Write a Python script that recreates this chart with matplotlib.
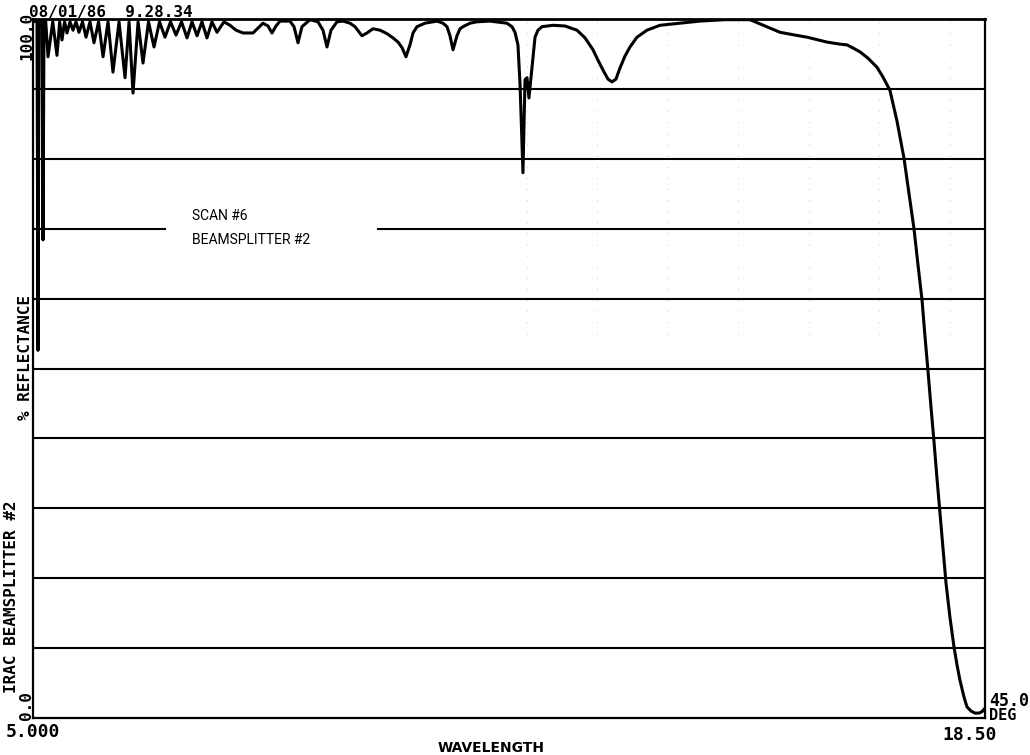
import matplotlib
matplotlib.use("Agg")
import matplotlib.pyplot as plt

# ---- data (wavelength in microns, % reflectance) ----
wavelength = [
    5.000, 5.057, 5.071, 5.085, 5.128, 5.142, 5.156, 5.180, 5.213, 5.280,
    5.340, 5.378, 5.411, 5.448, 5.482, 5.525, 5.567, 5.610, 5.652, 5.702,
    5.752, 5.808, 5.865, 5.930, 5.993, 6.064, 6.134, 6.220, 6.305, 6.362,
    6.418, 6.490, 6.560, 6.638, 6.716, 6.794, 6.872, 6.950, 7.028, 7.106,
    7.184, 7.255, 7.326, 7.396, 7.467, 7.538, 7.609,
    7.708, 7.794, 7.879, 7.978, 8.120, 8.191, 8.261, 8.332, 8.389, 8.446,
    8.503, 8.644, 8.701, 8.758, 8.814, 8.928, 9.041, 9.112, 9.169, 9.226,
    9.311, 9.396, 9.495, 9.566, 9.665, 9.736, 9.821, 9.921, 10.020, 10.105,
    10.176, 10.233, 10.289, 10.346, 10.389, 10.445, 10.559, 10.729, 10.814, 10.871,
    10.913, 10.956, 11.012, 11.055, 11.098, 11.197, 11.296, 11.480, 11.721, 11.792,
    11.835, 11.877, 11.906, 11.948, 11.977, 12.005, 12.033, 12.076, 12.119, 12.161,
    12.218, 12.374, 12.544, 12.714, 12.828, 12.941, 13.012, 13.083, 13.154, 13.210,
    13.267, 13.324, 13.395, 13.466, 13.565, 13.707, 13.891, 14.175, 14.458, 14.813,
    15.167, 15.380, 15.593, 15.805, 15.976, 16.259, 16.443, 16.543, 16.656, 16.727,
    16.840, 16.968, 17.053, 17.152, 17.252, 17.351, 17.422, 17.493, 17.550, 17.607,
    17.649, 17.692, 17.734, 17.777, 17.819, 17.862, 17.904, 17.947, 18.003, 18.060,
    18.103, 18.145, 18.202, 18.244, 18.301, 18.358, 18.414, 18.457, 18.500,
]
reflectance = [
    99.6, 99.7, 52.6, 99.7, 99.7, 68.4, 99.6, 99.7, 94.6, 99.6,
    94.8, 99.6, 97.0, 99.6, 98.0, 99.6, 98.4, 99.6, 98.1, 99.6,
    97.4, 99.6, 96.6, 99.6, 94.6, 99.6, 92.4, 99.6, 91.6, 99.6,
    89.4, 99.6, 93.7, 99.6, 96.0, 99.6, 97.4, 99.6, 97.7, 99.6,
    97.3, 99.6, 97.6, 99.6, 97.3, 99.6, 98.1,
    99.6, 99.1, 98.4, 98.0, 98.0, 98.7, 99.4, 99.0, 98.0, 99.0,
    99.7, 99.7, 98.9, 96.6, 98.9, 99.9, 99.6, 98.4, 96.0, 98.4,
    99.6, 99.7, 99.4, 98.9, 97.6, 98.0, 98.6, 98.4, 97.9, 97.3,
    96.7, 95.9, 94.6, 96.3, 98.0, 98.9, 99.4, 99.7, 99.4, 98.9,
    97.6, 95.6, 97.6, 98.6, 98.9, 99.4, 99.6, 99.7, 99.4, 98.9,
    98.1, 96.3, 90.8, 78.0, 91.3, 91.6, 88.7, 93.1, 97.4, 98.4,
    98.9, 99.1, 99.0, 98.4, 97.3, 95.6, 94.1, 92.7, 91.4, 91.0,
    91.4, 93.0, 94.7, 96.0, 97.4, 98.4, 99.1, 99.4, 99.7, 99.9,
    99.9, 99.0, 98.1, 97.7, 97.4, 96.7, 96.4, 96.3, 95.7, 95.3,
    94.4, 93.1, 91.7, 89.8, 85.4, 80.1, 75.1, 70.0, 64.8, 59.8,
    54.6, 49.6, 44.5, 39.5, 34.3, 29.3, 24.3, 19.3, 14.4, 10.2,
    7.6, 5.4, 3.0, 1.6, 1.0, 0.7, 0.7, 0.9, 1.4,
]

grid_levels = [10, 20, 30, 40, 50, 60, 80, 90]
broken_level = 70
broken_gap = (6.87, 9.89)
faint_verticals = [12, 13, 14, 15, 16, 17, 18]

x_min, x_max = 5.0, 18.5
date_text = "08/01/86  9.28.34"
ytop_label = "100.0"
ybot_label = "0.0"
xleft_label = "5.000"
xright_label = "18.50"
angle_label = "45.0"
angle_unit = "DEG"
xlabel = "WAVELENGTH"
ylabel_a = "IRAC BEAMSPLITTER #2"
ylabel_b = "% REFLECTANCE"
note_lines = ["SCAN #6", "BEAMSPLITTER #2"]

W, H = 1030, 755
fig = plt.figure(figsize=(W / 100, H / 100), dpi=100)
fig.patch.set_facecolor("white")

L, R, T, B = 33, 985, 19, 718
ax = fig.add_axes([L / W, (H - B) / H, (R - L) / W, (B - T) / H])
ax.set_xlim(x_min, x_max)
ax.set_ylim(0, 100)
ax.set_xticks([])
ax.set_yticks([])
for s in ax.spines.values():
    s.set_color("black")
    s.set_linewidth(1.6)
ax.spines["top"].set_linewidth(2.0)

# faint dotted vertical grid (barely visible in the scan)
for v in faint_verticals:
    ax.axvline(v, ymin=0.55, color="#d4d4d4", lw=0.8, ls=(0, (1, 9)), zorder=1)

# horizontal grid lines
for g in grid_levels:
    ax.axhline(g, color="black", lw=1.5, zorder=2)
ax.plot([x_min, broken_gap[0]], [broken_level, broken_level], color="black", lw=1.5, zorder=2)
ax.plot([broken_gap[1], x_max], [broken_level, broken_level], color="black", lw=1.5, zorder=2)

# spectrum
ax.plot(wavelength, reflectance, color="black", lw=2.2, solid_joinstyle="round",
        solid_capstyle="round", zorder=3)

# annotation block
note_font = ["Roboto", "DejaVu Sans"]
fig.text(192 / W, (H - 220) / H, note_lines[0], fontsize=10, family=note_font,
         color="black", va="baseline", ha="left")
fig.text(192 / W, (H - 244) / H, note_lines[1], fontsize=10, family=note_font,
         color="black", va="baseline", ha="left")

mono = "DejaVu Sans Mono"
fig.text(29 / W, (H - 17) / H, date_text, fontsize=11.5, family=mono,
         fontweight="bold", va="baseline", ha="left")
fig.text(27 / W, (H - 12) / H, ytop_label, fontsize=11.5, family=mono,
         fontweight="bold", rotation=90, va="top", ha="center")
fig.text(27 / W, (H - 720) / H, ybot_label, fontsize=11.5, family=mono,
         fontweight="bold", rotation=90, va="bottom", ha="center")
fig.text(26 / W, (H - 420) / H, ylabel_b, fontsize=11.5, family=mono,
         fontweight="bold", rotation=90, va="bottom", ha="center")
fig.text(12 / W, (H - 693) / H, ylabel_a, fontsize=11.5, family=mono,
         fontweight="bold", rotation=90, va="bottom", ha="center")
fig.text(33 / W, (H - 737) / H, xleft_label, fontsize=13, family=mono,
         fontweight="bold", va="baseline", ha="center")
fig.text(970 / W, (H - 740) / H, xright_label, fontsize=13, family=mono,
         fontweight="bold", va="baseline", ha="center")
fig.text(989 / W, (H - 706) / H, angle_label, fontsize=12, family=mono,
         fontweight="bold", va="baseline", ha="left")
fig.text(989 / W, (H - 720) / H, angle_unit, fontsize=11, family=mono,
         fontweight="bold", va="baseline", ha="left")
fig.text(491 / W, (H - 752) / H, xlabel, fontsize=10, family="DejaVu Sans",
         fontweight="bold", va="baseline", ha="center")

fig.savefig("out.png", dpi=100)
